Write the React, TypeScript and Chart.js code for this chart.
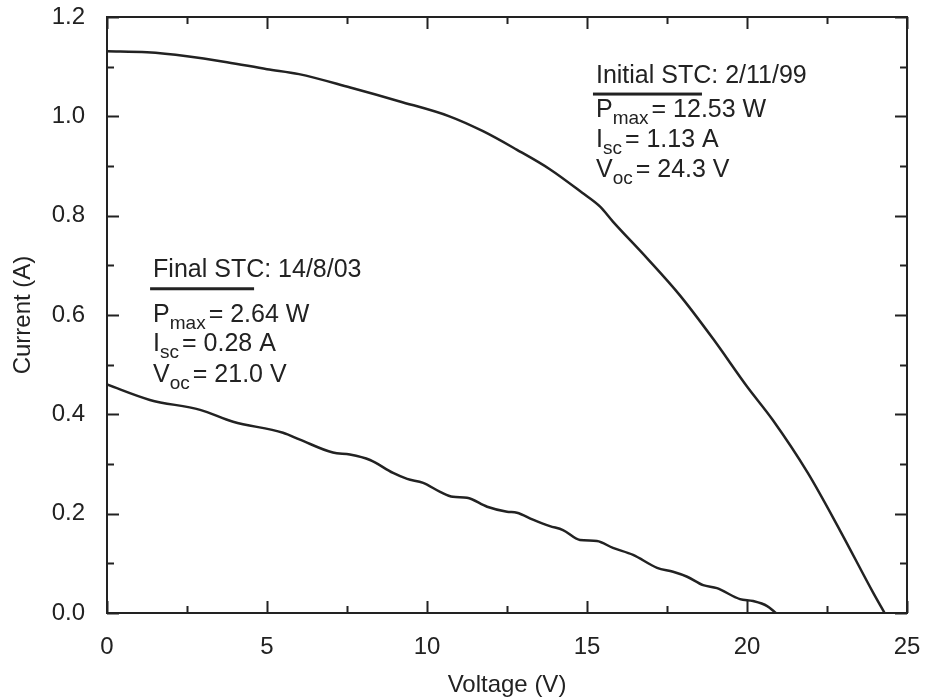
import React, { useEffect, useRef } from 'react';
import { Chart, registerables } from 'chart.js';

Chart.register(...registerables);

// ---- data ----
const initialVoltage = [0, 1.25, 2.5, 3.75, 5.0, 6.0, 7.6, 9.15, 10.7, 11.75, 12.8, 13.85, 14.85, 15.41, 15.81, 16.88, 17.91, 18.94, 20.0, 20.8, 21.9, 22.9, 23.95, 24.3];
const initialCurrent = [1.131, 1.129, 1.121, 1.109, 1.095, 1.085, 1.058, 1.03, 1.0, 0.97, 0.933, 0.893, 0.846, 0.818, 0.788, 0.714, 0.639, 0.552, 0.456, 0.389, 0.282, 0.167, 0.04, 0.0];

const finalVoltage = [0, 1.34, 2.91, 3.94, 5.5, 6.03, 7.06, 7.59, 8.22, 8.94, 9.38, 9.88, 10.41, 10.81, 11.25, 11.88, 12.5, 12.81, 13.31, 13.84, 14.25, 14.78, 15.31, 15.81, 16.44, 17.19, 17.69, 18.13, 18.63, 19.06, 19.78, 20.19, 20.63, 20.9];
const finalCurrent = [0.46, 0.429, 0.409, 0.385, 0.363, 0.349, 0.323, 0.319, 0.308, 0.282, 0.27, 0.262, 0.244, 0.234, 0.232, 0.214, 0.204, 0.202, 0.188, 0.175, 0.167, 0.147, 0.145, 0.131, 0.117, 0.091, 0.083, 0.073, 0.056, 0.05, 0.028, 0.024, 0.014, 0.0];

const xMajorStep = 5;
const xMinorStep = 2.5;
const yMajorStep = 0.2;
const yMinorStep = 0.1;
const xRange = [0, 25];
const yRange = [0, 1.2];

const xTitle = 'Voltage (V)';
const yTitle = 'Current (A)';

const initialNoteTitle = 'Initial STC: 2/11/99';
const initialNoteRows = [
  ['P', 'max', '= 12.53 W'],
  ['I', 'sc', '= 1.13 A'],
  ['V', 'oc', '= 24.3 V'],
];
const finalNoteTitle = 'Final STC: 14/8/03';
const finalNoteRows = [
  ['P', 'max', '= 2.64 W'],
  ['I', 'sc', '= 0.28 A'],
  ['V', 'oc', '= 21.0 V'],
];

// ---- styling ----
const FONT = '"Liberation Sans", Arial, Helvetica, sans-serif';
const INK = '#222222';
const TICK_SIZE = 24;
const NOTE_SIZE = 25;
const SUB_SIZE = 19;

type NoteSpec = {
  v: number;
  a: number;
  title: string;
  rows: string[][];
  barWidth: number;
  barOffset: number;
  rowOffsets: number[];
};

const notes: NoteSpec[] = [
  { v: 15.28, a: 1.067, title: initialNoteTitle, rows: initialNoteRows, barWidth: 109, barOffset: 11, rowOffsets: [34, 64, 94] },
  { v: 1.44, a: 0.677, title: finalNoteTitle, rows: finalNoteRows, barWidth: 104, barOffset: 12, rowOffsets: [45, 74, 105] },
];

const framePlugin = {
  id: 'frameTicksNotes',
  afterDatasetsDraw(chart: any) {
    const { ctx, chartArea: a, scales } = chart;
    const x = scales.x;
    const y = scales.y;
    ctx.save();
    ctx.strokeStyle = INK;
    ctx.lineWidth = 2;
    ctx.strokeRect(a.left, a.top, a.right - a.left, a.bottom - a.top);
    ctx.beginPath();
    const nx = Math.round((xRange[1] - xRange[0]) / xMinorStep);
    for (let k = 0; k <= nx; k++) {
      const v = xRange[0] + k * xMinorStep;
      const px = Math.round(x.getPixelForValue(v)) + 0.5;
      const major = Math.abs(v / xMajorStep - Math.round(v / xMajorStep)) < 1e-6;
      const len = major ? 12 : 7;
      ctx.moveTo(px, a.bottom);
      ctx.lineTo(px, a.bottom - len);
      ctx.moveTo(px, a.top);
      ctx.lineTo(px, a.top + len);
    }
    const ny = Math.round((yRange[1] - yRange[0]) / yMinorStep);
    for (let k = 0; k <= ny; k++) {
      const v = yRange[0] + k * yMinorStep;
      const py = Math.round(y.getPixelForValue(v)) + 0.5;
      const major = Math.abs(v / yMajorStep - Math.round(v / yMajorStep)) < 1e-6;
      const len = major ? 12 : 7;
      ctx.moveTo(a.left, py);
      ctx.lineTo(a.left + len, py);
      ctx.moveTo(a.right, py);
      ctx.lineTo(a.right - len, py);
    }
    ctx.stroke();

    // annotations
    ctx.fillStyle = INK;
    ctx.textBaseline = 'alphabetic';
    ctx.textAlign = 'left';
    for (const n of notes) {
      const x0 = x.getPixelForValue(n.v);
      const y0 = y.getPixelForValue(n.a);
      ctx.font = `${NOTE_SIZE}px ${FONT}`;
      ctx.fillText(n.title, x0, y0);
      ctx.fillRect(x0 - 3, y0 + n.barOffset - 1.5, n.barWidth, 3);
      n.rows.forEach((row, i) => {
        const by = y0 + n.rowOffsets[i];
        let cx = x0;
        ctx.font = `${NOTE_SIZE}px ${FONT}`;
        ctx.fillText(row[0], cx, by);
        cx += ctx.measureText(row[0]).width;
        ctx.font = `${SUB_SIZE}px ${FONT}`;
        ctx.fillText(row[1], cx, by + 7);
        cx += ctx.measureText(row[1]).width + 3;
        ctx.font = `${NOTE_SIZE}px ${FONT}`;
        ctx.fillText(row[2], cx, by);
      });
    }
    ctx.restore();
  },
};

export default function App() {
  const ref = useRef<HTMLCanvasElement | null>(null);

  useEffect(() => {
    if (!ref.current) return;
    const chart = new Chart(ref.current, {
      type: 'line',
      data: {
        datasets: [
          {
            label: 'Initial STC',
            data: initialVoltage.map((v, i) => ({ x: v, y: initialCurrent[i] })),
            borderColor: INK,
            borderWidth: 2.5,
            pointRadius: 0,
            cubicInterpolationMode: 'monotone',
            fill: false,
          },
          {
            label: 'Final STC',
            data: finalVoltage.map((v, i) => ({ x: v, y: finalCurrent[i] })),
            borderColor: INK,
            borderWidth: 2.5,
            pointRadius: 0,
            cubicInterpolationMode: 'monotone',
            fill: false,
          },
        ],
      },
      options: {
        animation: false,
        responsive: false,
        devicePixelRatio: 1,
        layout: { padding: { top: 17, right: 18, left: 0, bottom: 0 } },
        plugins: {
          legend: { display: false },
          tooltip: { enabled: false },
        },
        scales: {
          x: {
            type: 'linear',
            min: xRange[0],
            max: xRange[1],
            grid: { display: false },
            border: { display: false },
            ticks: {
              stepSize: xMajorStep,
              color: INK,
              font: { family: FONT, size: TICK_SIZE },
              padding: 12,
              maxRotation: 0,
            },
            title: {
              display: true,
              text: xTitle,
              color: INK,
              font: { family: FONT, size: TICK_SIZE },
              padding: { top: 0, bottom: 0 },
            },
            afterFit: (s: any) => {
              s.height = 87;
              s.paddingLeft = 0;
              s.paddingRight = 0;
            },
          },
          y: {
            type: 'linear',
            min: yRange[0],
            max: yRange[1],
            grid: { display: false },
            border: { display: false },
            ticks: {
              stepSize: yMajorStep,
              color: INK,
              font: { family: FONT, size: TICK_SIZE },
              padding: 14,
              callback: (v: any) => Number(v).toFixed(1),
            },
            title: {
              display: true,
              text: yTitle,
              color: INK,
              font: { family: FONT, size: TICK_SIZE },
              padding: { top: 9, bottom: 0 },
            },
            afterFit: (s: any) => {
              s.width = 107;
              s.paddingTop = 0;
              s.paddingBottom = 0;
            },
          },
        },
      },
      plugins: [framePlugin],
    } as any);
    return () => chart.destroy();
  }, []);

  return (
    <div style={{ position: 'absolute', left: 0, top: 0, width: 925, height: 700, background: '#fff' }}>
      <canvas ref={ref} width={925} height={700} />
    </div>
  );
}
